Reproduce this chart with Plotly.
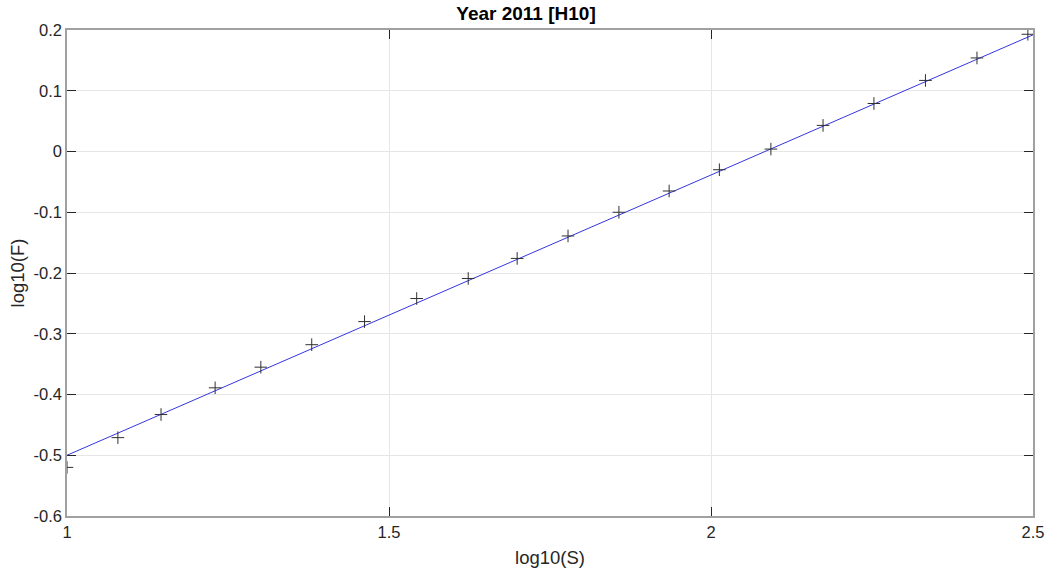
import plotly.graph_objects as go

# Data
log_s = [1.000, 1.079, 1.146, 1.230, 1.301, 1.380, 1.462, 1.543, 1.623, 1.699,
         1.778, 1.857, 1.935, 2.013, 2.093, 2.174, 2.253, 2.333, 2.413, 2.492]
log_f = [-0.520, -0.471, -0.433, -0.389, -0.355, -0.318, -0.280, -0.242, -0.209, -0.176,
         -0.139, -0.100, -0.065, -0.030, 0.004, 0.043, 0.079, 0.117, 0.154, 0.193]

fit_x = [1.0, 2.5]
fit_y = [-0.500, 0.192]

x_ticks = [1, 1.5, 2, 2.5]
x_tick_text = ["1", "1.5", "2", "2.5"]
y_ticks = [-0.6, -0.5, -0.4, -0.3, -0.2, -0.1, 0, 0.1, 0.2]
y_tick_text = ["-0.6", "-0.5", "-0.4", "-0.3", "-0.2", "-0.1", "0", "0.1", "0.2"]

FONT = "Liberation Sans, Arial, sans-serif"
TXT = "#262626"

fig = go.Figure()
fig.add_trace(go.Scatter(
    x=fit_x, y=fit_y, mode="lines",
    line=dict(color="#3535e0", width=1),
    showlegend=False, hoverinfo="skip",
))
fig.add_trace(go.Scatter(
    x=log_s, y=log_f, mode="markers",
    marker=dict(symbol="cross-thin", size=9, line=dict(color="#303030", width=1)),
    showlegend=False,
))

axis_common = dict(
    showline=True, linecolor="#a0a0a0", linewidth=1.5, mirror="ticks",
    ticks="inside", ticklen=9, tickcolor=TXT, tickwidth=1,
    showgrid=True, gridcolor="#e6e6e6", gridwidth=1,
    zeroline=False, automargin=False,
    tickfont=dict(family=FONT, size=16.5, color=TXT),
)

fig.update_xaxes(
    range=[1, 2.5], tickvals=x_ticks, ticktext=x_tick_text,
    title=dict(text="log10(S)", font=dict(family=FONT, size=18.5, color=TXT), standoff=12),
    **axis_common,
)
fig.update_yaxes(
    range=[-0.6, 0.2], tickvals=y_ticks, ticktext=y_tick_text,
    title=dict(text="log10(F)", font=dict(family=FONT, size=18.5, color=TXT), standoff=4),
    **axis_common,
)

fig.update_layout(
    width=1052, height=573,
    margin=dict(l=67, r=19, t=30, b=57),
    paper_bgcolor="white", plot_bgcolor="white",
    title=dict(text="<b>Year 2011 [H10]</b>", x=0.5, xanchor="center",
               y=1 - 13 / 573, yanchor="middle",
               font=dict(family=FONT, size=19, color="#000000")),
    font=dict(family=FONT, color=TXT),
)

fig.write_html("out.html")
